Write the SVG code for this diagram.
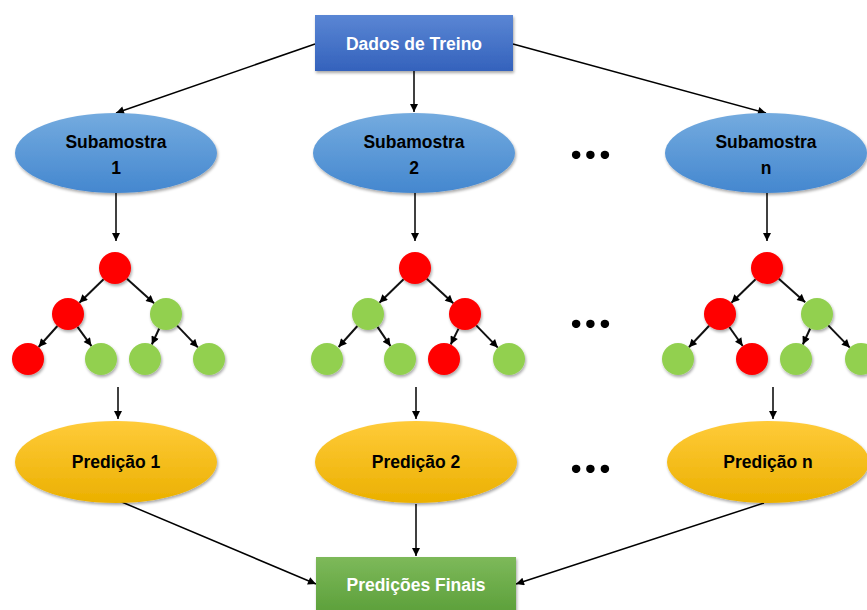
<svg xmlns="http://www.w3.org/2000/svg" width="867" height="610" viewBox="0 0 867 610">
<defs>
  <linearGradient id="gTop" x1="0" y1="0" x2="0" y2="1">
    <stop offset="0" stop-color="#5A86D4"/>
    <stop offset="1" stop-color="#3462BC"/>
  </linearGradient>
  <linearGradient id="gSub" x1="0" y1="0" x2="0" y2="1">
    <stop offset="0" stop-color="#74ABDF"/>
    <stop offset="1" stop-color="#4487CF"/>
  </linearGradient>
  <linearGradient id="gPred" x1="0" y1="0" x2="0" y2="1">
    <stop offset="0" stop-color="#FFCB3A"/>
    <stop offset="1" stop-color="#EBB000"/>
  </linearGradient>
  <linearGradient id="gFin" x1="0" y1="0" x2="0" y2="1">
    <stop offset="0" stop-color="#7DB95A"/>
    <stop offset="1" stop-color="#5A9E38"/>
  </linearGradient>
  <filter id="sh" x="-20%" y="-20%" width="140%" height="150%">
    <feGaussianBlur in="SourceAlpha" stdDeviation="1.5"/>
    <feOffset dx="1" dy="2" result="b"/>
    <feComponentTransfer><feFuncA type="linear" slope="0.35"/></feComponentTransfer>
    <feMerge><feMergeNode/><feMergeNode in="SourceGraphic"/></feMerge>
  </filter>
  <marker id="ah" viewBox="0 0 10 10" refX="10" refY="5" markerWidth="9" markerHeight="8" markerUnits="userSpaceOnUse" orient="auto">
    <path d="M0,0 L10,5 L0,10 z" fill="#000"/>
  </marker>
</defs>
<style>
  .ln { stroke:#000; stroke-width:1.5; fill:none; marker-end:url(#ah); }
  .tl { stroke:#111; stroke-width:2; fill:none; marker-end:url(#ah); }
  .lbl { font-family:"Liberation Sans", Arial, sans-serif; font-weight:bold; text-anchor:middle; }
  .w { fill:#fff; font-size:17.5px; }
  .k { fill:#000; font-size:17.5px; }
  .red { fill:#FF0000; filter:url(#sh); }
  .grn { fill:#92D050; filter:url(#sh); }
  .dots { font-family:Lato, "Liberation Sans", sans-serif; font-weight:bold; font-size:56px; fill:#000; text-anchor:middle; letter-spacing:1px; }
</style>

<g id="connectors">
  <line class="ln" x1="315" y1="44" x2="116" y2="113"/>
  <line class="ln" x1="414" y1="71" x2="414" y2="112"/>
  <line class="ln" x1="513" y1="44" x2="766" y2="113"/>
  <line class="ln" x1="116" y1="193" x2="116" y2="241"/>
  <line class="ln" x1="415" y1="193" x2="415" y2="241"/>
  <line class="ln" x1="767" y1="193" x2="767" y2="241"/>
  <line class="ln" x1="118" y1="387" x2="118" y2="419"/>
  <line class="ln" x1="416" y1="387" x2="416" y2="419"/>
  <line class="ln" x1="773" y1="387" x2="773" y2="419"/>
  <line class="ln" x1="117" y1="500" x2="316" y2="584"/>
  <line class="ln" x1="416" y1="504" x2="416" y2="556"/>
  <line class="ln" x1="764" y1="503" x2="516" y2="584"/>
</g>

<g id="tree-1">
  <g id="tree-1-edges">
    <line class="tl" x1="103.6" y1="279.2" x2="79.4" y2="302.8"/>
    <line class="tl" x1="126.9" y1="278.7" x2="154.1" y2="303.3"/>
    <line class="tl" x1="57.4" y1="326.0" x2="38.6" y2="347.0"/>
    <line class="tl" x1="77.5" y1="326.9" x2="91.5" y2="346.1"/>
    <line class="tl" x1="159.2" y1="328.5" x2="151.8" y2="344.5"/>
    <line class="tl" x1="177.1" y1="325.6" x2="197.9" y2="347.4"/>
  </g>
  <circle id="t1-n0" class="red" cx="115" cy="268" r="16"/>
  <circle id="t1-n1" class="red" cx="68" cy="314" r="16"/>
  <circle id="t1-n2" class="grn" cx="166" cy="314" r="16"/>
  <circle id="t1-n3" class="red" cx="28" cy="359" r="16"/>
  <circle id="t1-n4" class="grn" cx="101" cy="359" r="16"/>
  <circle id="t1-n5" class="grn" cx="145" cy="359" r="16"/>
  <circle id="t1-n6" class="grn" cx="209" cy="359" r="16"/>
</g>

<g id="tree-2">
  <g id="tree-2-edges">
    <line class="tl" x1="403.6" y1="279.2" x2="379.4" y2="302.8"/>
    <line class="tl" x1="426.7" y1="278.8" x2="453.3" y2="303.2"/>
    <line class="tl" x1="357.4" y1="326.0" x2="338.6" y2="347.0"/>
    <line class="tl" x1="377.5" y1="326.9" x2="390.5" y2="346.1"/>
    <line class="tl" x1="458.5" y1="328.6" x2="450.7" y2="344.5"/>
    <line class="tl" x1="476.2" y1="325.4" x2="497.8" y2="347.6"/>
  </g>
  <circle id="t2-n0" class="red" cx="415" cy="268" r="16"/>
  <circle id="t2-n1" class="grn" cx="368" cy="314" r="16"/>
  <circle id="t2-n2" class="red" cx="465" cy="314" r="16"/>
  <circle id="t2-n3" class="grn" cx="327" cy="359" r="16"/>
  <circle id="t2-n4" class="grn" cx="400" cy="359" r="16"/>
  <circle id="t2-n5" class="red" cx="444" cy="359" r="16"/>
  <circle id="t2-n6" class="grn" cx="509" cy="359" r="16"/>
</g>

<g id="tree-n">
  <g id="tree-n-edges">
    <line class="tl" x1="755.6" y1="279.2" x2="731.4" y2="302.8"/>
    <line class="tl" x1="778.8" y1="278.8" x2="805.2" y2="302.2"/>
    <line class="tl" x1="709.1" y1="325.7" x2="688.9" y2="347.3"/>
    <line class="tl" x1="729.3" y1="327.0" x2="742.7" y2="346.0"/>
    <line class="tl" x1="810.2" y1="328.5" x2="802.8" y2="344.5"/>
    <line class="tl" x1="828.2" y1="325.4" x2="849.8" y2="347.6"/>
  </g>
  <circle id="tn-n0" class="red" cx="767" cy="268" r="16"/>
  <circle id="tn-n1" class="red" cx="720" cy="314" r="16"/>
  <circle id="tn-n2" class="grn" cx="817" cy="314" r="16"/>
  <circle id="tn-n3" class="grn" cx="678" cy="359" r="16"/>
  <circle id="tn-n4" class="red" cx="752" cy="359" r="16"/>
  <circle id="tn-n5" class="grn" cx="796" cy="359" r="16"/>
  <circle id="tn-n6" class="grn" cx="861" cy="359" r="16"/>
</g>

<g id="dados-treino">
  <rect x="315" y="15" width="198" height="56" fill="url(#gTop)" filter="url(#sh)"/>
  <text class="lbl w" x="414" y="50">Dados de Treino</text>
</g>

<g id="subamostra-1">
  <ellipse cx="116" cy="153" rx="101" ry="40" fill="url(#gSub)" filter="url(#sh)"/>
  <text class="lbl k" x="116" y="148">Subamostra</text>
  <text class="lbl k" x="116" y="174">1</text>
</g>
<g id="subamostra-2">
  <ellipse cx="414" cy="153" rx="101" ry="40" fill="url(#gSub)" filter="url(#sh)"/>
  <text class="lbl k" x="414" y="148">Subamostra</text>
  <text class="lbl k" x="414" y="174">2</text>
</g>
<g id="subamostra-n">
  <ellipse cx="766" cy="153" rx="101" ry="40" fill="url(#gSub)" filter="url(#sh)"/>
  <text class="lbl k" x="766" y="148">Subamostra</text>
  <text class="lbl k" x="766" y="174">n</text>
</g>

<g id="predicao-1">
  <ellipse cx="116" cy="462" rx="101" ry="41" fill="url(#gPred)" filter="url(#sh)"/>
  <text class="lbl k" x="116" y="468">Predição 1</text>
</g>
<g id="predicao-2">
  <ellipse cx="416" cy="462" rx="101" ry="41" fill="url(#gPred)" filter="url(#sh)"/>
  <text class="lbl k" x="416" y="468">Predição 2</text>
</g>
<g id="predicao-n">
  <ellipse cx="768" cy="462" rx="101" ry="41" fill="url(#gPred)" filter="url(#sh)"/>
  <text class="lbl k" x="768" y="468">Predição n</text>
</g>

<g id="predicoes-finais">
  <rect x="316" y="557" width="200" height="60" fill="url(#gFin)" filter="url(#sh)"/>
  <text class="lbl w" x="416" y="591">Predições Finais</text>
</g>

<g id="ellipses-dots">
  <text class="dots" x="591" y="159">...</text>
  <text class="dots" x="591" y="328">...</text>
  <text class="dots" x="591" y="473">...</text>
</g>
</svg>
